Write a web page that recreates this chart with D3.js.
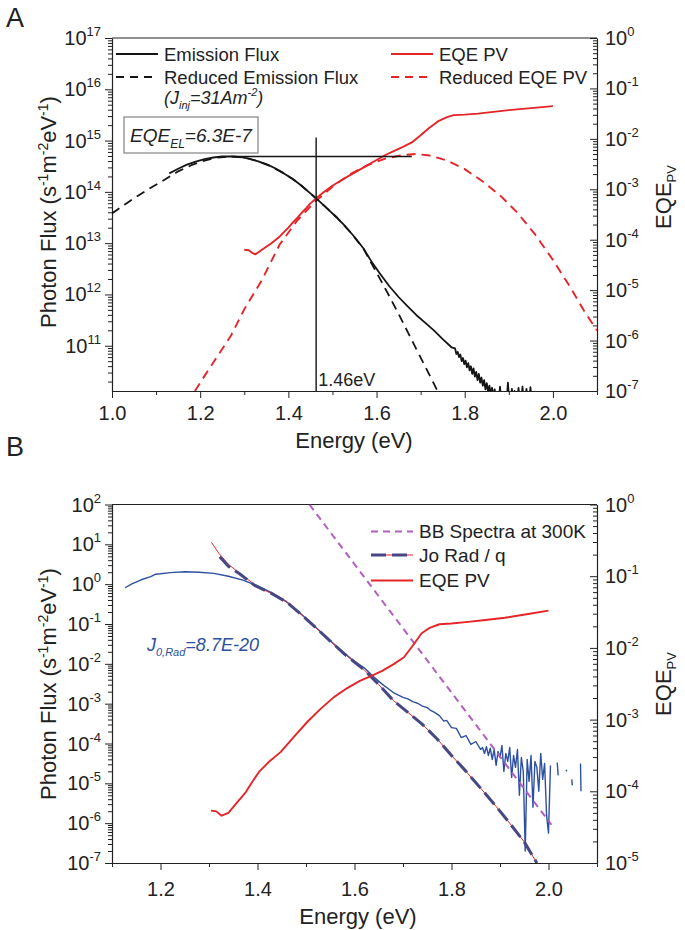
<!DOCTYPE html>
<html><head><meta charset="utf-8">
<script src="https://cdn.jsdelivr.net/npm/d3@7"></script>
<style>
body{margin:0;background:#fff}
text{font-family:"Liberation Sans",Arial,Helvetica,sans-serif;fill:#222}
</style>
</head><body><svg id="c" width="685" height="930"></svg>
<script>
// ================= DATA (log10 exponents on log axes) =================
// Panel A
const emisE = [1.13,1.15,1.17,1.19,1.21,1.23,1.25,1.27,1.29,1.31,1.33,1.35,1.37,1.39,1.41,1.43,1.45,1.47,1.49,1.51,1.53,1.55,1.57,1.59,1.61,1.63,1.65,1.67,1.69,1.71,1.73,1.75,1.77,
  1.778,1.781,1.784,1.787,1.790,1.793,1.796,1.799,1.802,1.805,1.808,1.811,1.814,1.817,1.820,1.823,1.826,1.829,1.832,1.835,1.838,1.841,1.844,1.847,1.850,1.853,1.856,1.859,1.862,1.865,1.868,1.871,1.874,1.877,1.880,1.883,1.886,1.889,1.892,1.895,1.898,1.901,1.904,1.907,1.910,1.913,1.916,1.919,1.922,1.925,1.928,1.931,1.934,1.937,1.940,1.943,1.946,1.949,1.952];
const emisExp = [14.36,14.45,14.53,14.59,14.64,14.67,14.69,14.69,14.68,14.65,14.60,14.54,14.46,14.36,14.25,14.12,13.97,13.82,13.66,13.50,13.32,13.12,12.90,12.62,12.38,12.15,11.95,11.77,11.60,11.45,11.30,11.13,10.97,
  10.95,10.84,10.88,10.78,10.83,10.70,10.76,10.64,10.71,10.58,10.66,10.52,10.60,10.45,10.56,10.40,10.49,10.33,10.45,10.28,10.38,10.22,10.33,10.15,10.27,10.10,10.22,10.05,10.18,10.00,10.15,9.90,10.00,9.90,10.20,9.90,9.90,10.10,9.90,9.90,10.28,9.90,9.90,10.16,9.90,10.12,9.90,9.90,10.18,9.90,9.90,10.20,9.90,9.90,10.16,9.90,9.90,10.19,9.90];
const redEmisE = [1.00,1.03,1.06,1.09,1.12,1.15,1.18,1.21,1.24,1.27,1.30,1.33,1.36,1.39,1.42,1.45,1.48,1.51,1.54,1.57,1.59,1.61,1.63,1.65,1.67,1.69,1.71,1.73,1.745];
const redEmisExp = [13.58,13.76,13.93,14.09,14.24,14.40,14.52,14.61,14.67,14.69,14.67,14.60,14.50,14.36,14.19,13.97,13.74,13.50,13.22,12.90,12.58,12.27,11.95,11.62,11.28,10.94,10.60,10.26,10.00];
const eqeAE = [1.300,1.310,1.318,1.325,1.332,1.340,1.350,1.360,1.370,1.380,1.390,1.400,1.410,1.420,1.430,1.440,1.450,1.463,1.480,1.500,1.520,1.540,1.560,1.580,1.600,1.620,1.640,1.660,1.680,1.700,1.720,1.740,1.760,1.775,1.800,1.830,1.860,1.900,1.950,2.000];
const eqeAExp = [-4.20,-4.21,-4.26,-4.29,-4.25,-4.20,-4.14,-4.08,-4.01,-3.94,-3.85,-3.76,-3.66,-3.57,-3.47,-3.38,-3.28,-3.18,-3.06,-2.93,-2.82,-2.72,-2.62,-2.52,-2.42,-2.32,-2.24,-2.16,-2.07,-1.93,-1.78,-1.65,-1.57,-1.53,-1.52,-1.50,-1.47,-1.43,-1.39,-1.35];
const redEqeE = [1.188,1.21,1.24,1.27,1.30,1.34,1.38,1.42,1.46,1.50,1.54,1.58,1.62,1.66,1.69,1.72,1.76,1.80,1.84,1.88,1.92,1.96,2.00,2.04,2.07,2.10];
const redEqeExp = [-7.00,-6.70,-6.30,-5.90,-5.38,-4.80,-4.10,-3.62,-3.25,-2.95,-2.70,-2.52,-2.39,-2.32,-2.30,-2.33,-2.43,-2.60,-2.84,-3.12,-3.47,-3.90,-4.40,-4.95,-5.40,-5.80];
const crossE = 1.463, crossTopFlux = 1.15e15;
const peakLineE = [1.27, 1.68], peakLineFlux = 4.9e14;

// Panel B
const blueE = [1.127,1.14,1.16,1.18,1.19,1.20,1.22,1.25,1.28,1.31,1.34,1.37,1.40,1.43,1.46,1.49,1.52,1.55,1.58,1.60,1.62,1.64,1.657,1.68,1.70,1.71,1.72,1.73,1.74,1.75,1.756,1.765,1.775,1.784,1.79,1.80,1.81,1.82,1.83,1.84,1.85,1.86,
  1.864,1.868,1.872,1.876,1.880,1.884,1.888,1.892,1.896,1.900,1.904,1.908,1.912,1.916,1.920,1.924,1.928,1.932,1.936,1.940,1.944,1.948,1.952,1.956,1.960,1.964,1.968,1.972,1.976,1.980,1.984,1.988,1.992,1.996,2.000,2.004,
  2.008,2.018,2.020,2.022,2.036,2.038,2.040,2.048,2.049,2.051,2.066,2.067];
const blueExp = [-0.09,0.00,0.11,0.19,0.25,0.26,0.29,0.31,0.30,0.27,0.20,0.10,-0.04,-0.22,-0.44,-0.75,-1.08,-1.42,-1.74,-1.94,-2.10,-2.33,-2.51,-2.72,-2.84,-2.88,-2.95,-2.99,-3.06,-3.10,-3.16,-3.22,-3.30,-3.44,-3.42,-3.60,-3.62,-3.85,-3.80,-4.02,-3.95,-4.15,
  -4.10,-4.25,-4.08,-4.30,-4.12,-4.40,-4.15,-4.55,-4.20,-4.35,-4.05,-4.70,-4.25,-4.45,-4.10,-4.85,-4.30,-4.60,-4.15,-5.30,-4.35,-4.70,-6.70,-4.40,-4.95,-4.30,-5.60,-4.45,-4.60,-5.20,-4.25,-4.90,-4.50,-5.80,-6.25,-4.55,
  null,-4.48,-4.80,null,-4.66,-4.70,null,-4.90,-5.05,null,-4.50,-5.20];
const joRadE = [1.322,1.34,1.363,1.394,1.43,1.46,1.49,1.52,1.55,1.58,1.62,1.65,1.68,1.71,1.74,1.77,1.80,1.83,1.86,1.89,1.92,1.95,1.976];
const joRadExp = [0.69,0.45,0.26,-0.03,-0.24,-0.45,-0.76,-1.09,-1.43,-1.76,-2.15,-2.52,-2.92,-3.22,-3.52,-3.88,-4.30,-4.70,-5.12,-5.55,-6.00,-6.47,-7.00];
const thinRedE = [1.305,1.32,1.34,1.36,1.38,1.40,1.43,1.46,1.49,1.52,1.55,1.58,1.62,1.65,1.68,1.71,1.74,1.77,1.80,1.83,1.86,1.89,1.92,1.95,1.976];
const thinRedExp = [1.05,0.78,0.50,0.30,0.12,-0.07,-0.24,-0.45,-0.76,-1.09,-1.43,-1.76,-2.15,-2.52,-2.92,-3.22,-3.52,-3.88,-4.30,-4.70,-5.12,-5.55,-6.00,-6.47,-7.00];
const bbE = [1.507,1.60,1.70,1.80,1.90,2.006];
const bbExp = [2.00,0.50,-1.11,-2.72,-4.33,-6.04];
const eqeBE = [1.304,1.315,1.326,1.340,1.355,1.376,1.390,1.403,1.425,1.448,1.475,1.503,1.530,1.557,1.585,1.611,1.635,1.657,1.680,1.702,1.720,1.738,1.755,1.775,1.800,1.829,1.870,1.910,1.955,2.000];
const eqeBExp = [-4.27,-4.28,-4.34,-4.30,-4.18,-4.01,-3.86,-3.73,-3.58,-3.45,-3.24,-3.03,-2.85,-2.69,-2.56,-2.46,-2.39,-2.32,-2.23,-2.13,-1.97,-1.80,-1.72,-1.67,-1.66,-1.64,-1.61,-1.58,-1.53,-1.48];

// tick labels
const xTicksA = [1.0,1.2,1.4,1.6,1.8,2.0];
const xTicksB = [1.2,1.4,1.6,1.8,2.0];
const leftExpA = [11,12,13,14,15,16,17];
const rightExpA = [-7,-6,-5,-4,-3,-2,-1,0];
const leftExpB = [-7,-6,-5,-4,-3,-2,-1,0,1,2];
const rightExpB = [-5,-4,-3,-2,-1,0];

// ================= DRAWING =================
const svg = d3.select("#c");
const L = 112, R = 597;
const PA = {top:38, bottom:391}, PB = {top:504.5, bottom:863};
const C = {red:"#e52428", black:"#151515", blue:"#2d50a0", bb:"#b35ec0", jo:"#474786"};

const xA = d3.scaleLinear().domain([1.0,2.1]).range([L,R]);
const yA = d3.scaleLog().domain([1.31e10,1e17]).range([PA.bottom,PA.top]);
const yAR = d3.scaleLog().domain([1e-7,1]).range([PA.bottom,PA.top]);
const xB = d3.scaleLinear().domain([1.1,2.1]).range([L,R]);
const yB = d3.scaleLog().domain([1e-7,1e2]).range([PB.bottom,PB.top]);
const yBR = d3.scaleLog().domain([1e-5,1]).range([PB.bottom,PB.top]);

const pts = (E, X) => E.map((e,i)=>({e, v: X[i]===null ? null : Math.pow(10, X[i])}));

function minorVals(scale){
  const [lo,hi] = scale.domain(); const out=[];
  for(let p=Math.floor(Math.log10(lo)); p<=Math.ceil(Math.log10(hi)); p++)
    for(let k=2;k<10;k++){ const v=k*Math.pow(10,p); if(v>=lo && v<=hi) out.push(v); }
  return out;
}

function supText(g, x, y, exp, anchor){
  const t = g.append("text").attr("x",x).attr("y",y).attr("text-anchor",anchor).style("font-size","20px");
  t.append("tspan").text("10");
  t.append("tspan").attr("dy",-9).style("font-size","13px").text(String(exp));
}

function panel(x, yl, yr, P, xt, xMinor, lExp, rExp, id, labY){
  const g = svg.append("g");
  svg.append("clipPath").attr("id",id).append("rect")
    .attr("x",L).attr("y",P.top).attr("width",R-L).attr("height",P.bottom-P.top);
  g.append("g").attr("transform",`translate(0,${P.bottom})`)
    .call(d3.axisBottom(x).tickValues(xt).tickSize(7).tickSizeOuter(0).tickFormat(d3.format(".1f")))
    .call(a=>a.selectAll("text").attr("dy",null).attr("y", labY).style("font-size","20px").style("font-family","'Liberation Sans',Arial,sans-serif").attr("fill","#222"));
  g.append("g").attr("transform",`translate(0,${P.bottom})`)
    .call(d3.axisBottom(x).tickValues(xMinor).tickSize(4).tickSizeOuter(0).tickFormat(""))
    .call(a=>a.select(".domain").remove());
  g.append("g").attr("transform",`translate(${L},0)`)
    .call(d3.axisLeft(yl).tickValues(lExp.map(e=>Math.pow(10,e))).tickSize(7).tickSizeOuter(0).tickFormat(""));
  g.append("g").attr("transform",`translate(${L},0)`)
    .call(d3.axisLeft(yl).tickValues(minorVals(yl)).tickSize(4).tickSizeOuter(0).tickFormat(""))
    .call(a=>a.select(".domain").remove());
  g.append("g").attr("transform",`translate(${R},0)`)
    .call(d3.axisLeft(yr).tickValues(rExp.map(e=>Math.pow(10,e))).tickSize(7).tickSizeOuter(0).tickFormat(""));
  g.append("g").attr("transform",`translate(${R},0)`)
    .call(d3.axisLeft(yr).tickValues(minorVals(yr)).tickSize(4).tickSizeOuter(0).tickFormat(""))
    .call(a=>a.select(".domain").remove());
  g.append("line").attr("x1",L).attr("x2",R).attr("y1",P.top).attr("y2",P.top).attr("stroke","#222").attr("stroke-width",1.2);
  g.selectAll(".domain").attr("stroke","#222").attr("stroke-width",1.2);
  g.selectAll(".tick line").attr("stroke","#222");
  lExp.forEach(e=>supText(g, 101, yl(Math.pow(10,e))+7, e, "end"));
  rExp.forEach(e=>supText(g, 605, yr(Math.pow(10,e))+7, e, "start"));
  return g;
}

const minorA = [1.1,1.3,1.5,1.7,1.9,2.1];
const minorB = [1.1,1.3,1.5,1.7,1.9,2.1];
panel(xA, yA, yAR, PA, xTicksA, minorA, leftExpA, rightExpA, "clipA", 29);
panel(xB, yB, yBR, PB, xTicksB, minorB, leftExpB, rightExpB, "clipB", 33);

function drawLine(x, y, data, color, width, dash, clip){
  const ln = d3.line().defined(d=>d.v!==null).x(d=>x(d.e)).y(d=>y(d.v));
  svg.append("path").datum(data).attr("d",ln).attr("fill","none")
    .attr("stroke",color).attr("stroke-width",width)
    .attr("stroke-dasharray",dash||null).attr("stroke-linejoin","round")
    .attr("clip-path",`url(#${clip})`);
}

// ---------- Panel A marks ----------
drawLine(xA, yA, pts(redEmisE, redEmisExp), C.black, 1.8, "9,6", "clipA");
drawLine(xA, yAR, pts(redEqeE, redEqeExp), C.red, 1.9, "9,6", "clipA");
drawLine(xA, yA, pts(emisE, emisExp), C.black, 1.8, null, "clipA");
drawLine(xA, yAR, pts(eqeAE, eqeAExp), C.red, 1.9, null, "clipA");
svg.append("line").attr("x1",xA(crossE)).attr("x2",xA(crossE)).attr("y1",yA(crossTopFlux)).attr("y2",PA.bottom)
  .attr("stroke",C.black).attr("stroke-width",1.4);
svg.append("line").attr("x1",xA(peakLineE[0])).attr("x2",xA(peakLineE[1])).attr("y1",yA(peakLineFlux)).attr("y2",yA(peakLineFlux))
  .attr("stroke",C.black).attr("stroke-width",1.4);
svg.append("text").attr("x",xA(crossE)+2).attr("y",386).style("font-size","18px").text("1.46eV");

svg.append("rect").attr("x",124).attr("y",117).attr("width",134).attr("height",36)
  .attr("fill","#fff").attr("stroke","#8c8c8c").attr("stroke-width",1.3);
{
  const t = svg.append("text").attr("x",191).attr("y",142).attr("text-anchor","middle").style("font-size","19px").style("font-style","italic");
  t.append("tspan").text("EQE");
  t.append("tspan").attr("dy",6).style("font-size","12px").text("EL");
  t.append("tspan").attr("dy",-6).text("=6.3E-7");
}

function legItem(x1, x2, y, color, width, dash, label, size){
  svg.append("line").attr("x1",x1).attr("x2",x2).attr("y1",y).attr("y2",y)
    .attr("stroke",color).attr("stroke-width",width).attr("stroke-dasharray",dash||null);
  svg.append("text").attr("x",x2+6).attr("y",y+6.5).style("font-size",size+"px").text(label);
}
legItem(116,158,54,C.black,1.8,null,"Emission Flux",18.5);
legItem(116,158,77,C.black,1.8,"8,6","Reduced Emission Flux",18.5);
legItem(391,433,54,C.red,1.9,null,"EQE PV",18.5);
legItem(391,433,77,C.red,1.9,"8,6","Reduced EQE PV",18.5);
{
  const t = svg.append("text").attr("x",164).attr("y",104).style("font-size","18px").style("font-style","italic");
  t.append("tspan").text("(J");
  t.append("tspan").attr("dy",5).style("font-size","11px").text("inj");
  t.append("tspan").attr("dy",-5).text("=31Am");
  t.append("tspan").attr("dy",-8).style("font-size","11px").text("-2");
  t.append("tspan").attr("dy",8).text(")");
}

// ---------- Panel B marks ----------
drawLine(xB, yB, pts(blueE, blueExp), C.blue, 1.4, null, "clipB");
drawLine(xB, yB, pts(thinRedE, thinRedExp), C.red, 1, null, "clipB");
drawLine(xB, yB, pts(joRadE, joRadExp), C.jo, 3, "15,6", "clipB");
drawLine(xB, yB, pts(bbE, bbExp), C.bb, 2, "7,5", "clipB");
drawLine(xB, yBR, pts(eqeBE, eqeBExp), C.red, 1.9, null, "clipB");

legItem(371,413,531.5,C.bb,2,"7,5","BB Spectra at 300K",19);
svg.append("line").attr("x1",371).attr("x2",413).attr("y1",555).attr("y2",555).attr("stroke",C.red).attr("stroke-width",1);
legItem(371,413,555,C.jo,3,"15,6","Jo Rad / q",19);
legItem(371,413,580.5,C.red,1.9,null,"EQE PV",19);

{
  const t = svg.append("text").attr("x",147).attr("y",651).style("font-size","18px").style("font-style","italic").style("fill",C.blue);
  t.append("tspan").text("J");
  t.append("tspan").attr("dy",5).style("font-size","11px").text("0,Rad");
  t.append("tspan").attr("dy",-5).text("=8.7E-20");
}

// ---------- Titles ----------
function yTitle(x, y){
  const t = svg.append("text").attr("transform",`translate(${x},${y}) rotate(-90)`).attr("text-anchor","middle").style("font-size","22px");
  t.append("tspan").text("Photon Flux (s");
  t.append("tspan").attr("dy",-8).style("font-size","14px").text("-1");
  t.append("tspan").attr("dy",8).text("m");
  t.append("tspan").attr("dy",-8).style("font-size","14px").text("-2");
  t.append("tspan").attr("dy",8).text("eV");
  t.append("tspan").attr("dy",-8).style("font-size","14px").text("-1");
  t.append("tspan").attr("dy",8).text(")");
}
function rTitle(x, y){
  const t = svg.append("text").attr("transform",`translate(${x},${y}) rotate(-90)`).attr("text-anchor","middle").style("font-size","22px");
  t.append("tspan").text("EQE");
  t.append("tspan").attr("dy",5).style("font-size","13px").text("PV");
}
yTitle(56, 212);
yTitle(56, 684);
rTitle(671, 197);
rTitle(671, 684);
svg.append("text").attr("x",354).attr("y",448).attr("text-anchor","middle").style("font-size","22px").text("Energy (eV)");
svg.append("text").attr("x",358).attr("y",924).attr("text-anchor","middle").style("font-size","22px").text("Energy (eV)");
svg.append("text").attr("x",6).attr("y",27).style("font-size","27px").text("A");
svg.append("text").attr("x",6).attr("y",456).style("font-size","27px").text("B");
</script></body></html>
